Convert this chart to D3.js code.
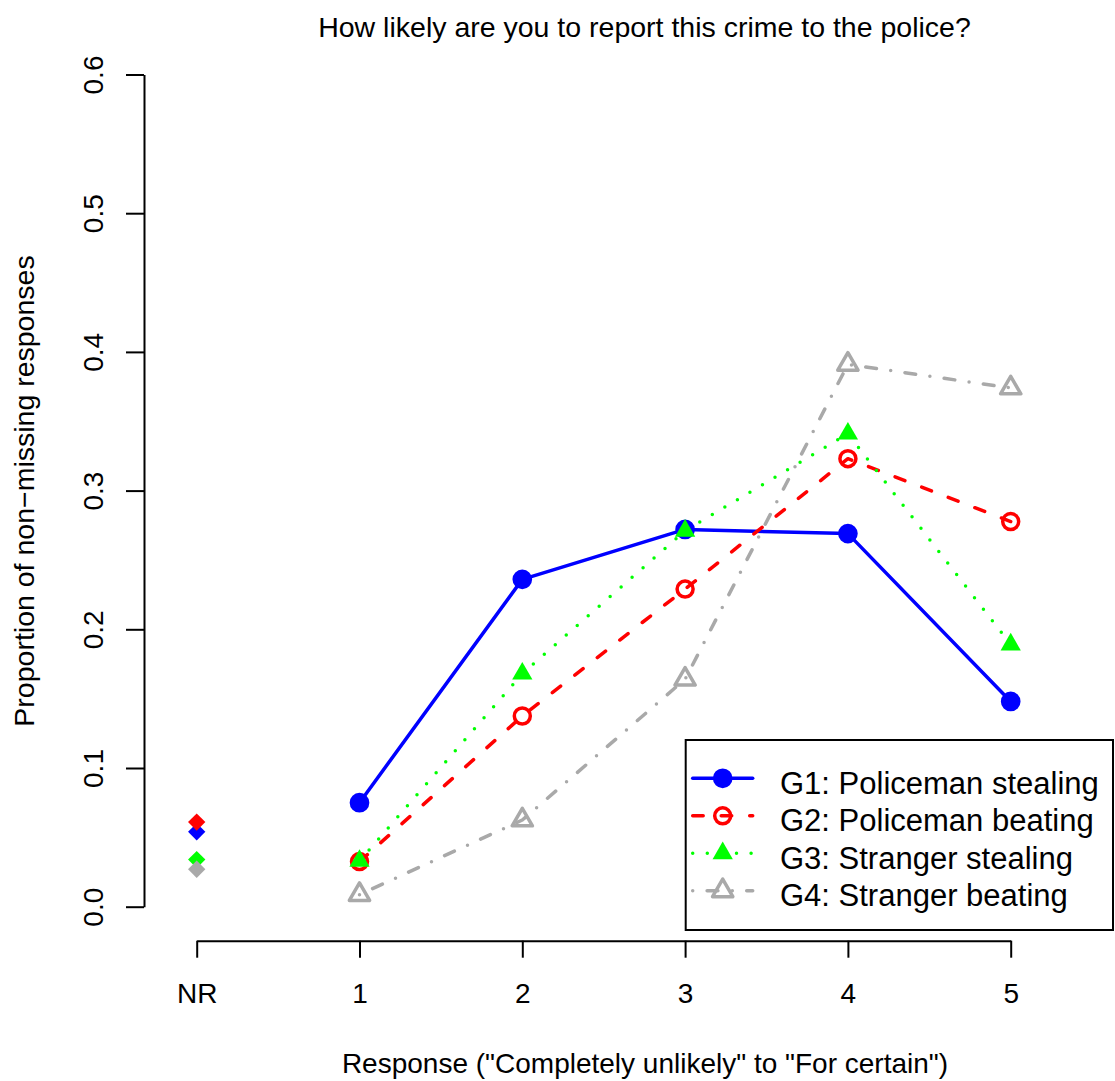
<!DOCTYPE html>
<html>
<head>
<meta charset="utf-8">
<script src="https://d3js.org/d3.v7.min.js"></script>
<style>
  body { margin: 0; background: #fff; }
  svg text { font-family: "Liberation Sans", Arial, sans-serif; fill: #000; }
</style>
</head>
<body>
<script>
// x positions: 0 = NR, 1..5 = responses
const categories = ["NR", "1", "2", "3", "4", "5"];
const responses = [1, 2, 3, 4, 5];
const yTicks = [0, 0.1, 0.2, 0.3, 0.4, 0.5, 0.6];

const groupNames = [
  "G1: Policeman stealing",
  "G2: Policeman beating",
  "G3: Stranger stealing",
  "G4: Stranger beating"
];
const nrValues = [0.054, 0.061, 0.034, 0.027];
const g1 = [0.075, 0.236, 0.272, 0.269, 0.148];
const g2 = [0.0325, 0.1375, 0.229, 0.323, 0.2777];
const g3 = [0.033, 0.168, 0.271, 0.341, 0.189];
const g4 = [0.0087, 0.0625, 0.164, 0.391, 0.374];

const colors = ["#0000FF", "#FF0000", "#00FF00", "#A9A9A9"];
const dashes = [null, "10.5,18", "0,14.6", "0,14.4,10.8,14.4"];
const lw = 3.5;

const series = [g1, g2, g3, g4].map((vals, i) => ({
  name: groupNames[i],
  nr: nrValues[i],
  values: vals.map((v, j) => ({ x: responses[j], y: v }))
}));

const W = 1115, H = 1081;
const svg = d3.select("body").append("svg")
  .attr("width", W)
  .attr("height", H);

const x = d3.scaleLinear().domain([0, 5]).range([196.7, 1010.7]);
const y = d3.scaleLinear().domain([0, 0.6]).range([906.7, 74.5]);

// y axis
const yAxis = svg.append("g")
  .attr("transform", "translate(144,0)")
  .call(d3.axisLeft(y).tickValues(yTicks).tickFormat(d3.format(".1f"))
    .tickSize(18).tickSizeOuter(0));
yAxis.selectAll("path, line").attr("stroke", "#000").attr("stroke-width", 2);
yAxis.selectAll("text")
  .attr("x", null).attr("dy", null)
  .attr("transform", "translate(-41,0) rotate(-90)")
  .attr("text-anchor", "middle")
  .style("font-size", "28px");

// x axis
const xAxis = svg.append("g")
  .attr("transform", "translate(0,940.7)")
  .call(d3.axisBottom(x).tickValues(d3.range(categories.length))
    .tickFormat(i => categories[i]).tickSize(17).tickSizeOuter(0));
xAxis.selectAll("path, line").attr("stroke", "#000").attr("stroke-width", 2);
xAxis.selectAll("text")
  .attr("y", 62.6).attr("dy", null)
  .style("font-size", "28px");
xAxis.attr("font-family", null).attr("font-size", null);
yAxis.attr("font-family", null).attr("font-size", null);

// titles
svg.append("text")
  .attr("x", 644.5).attr("y", 37)
  .attr("text-anchor", "middle")
  .style("font-size", "28.5px")
  .text("How likely are you to report this crime to the police?");

svg.append("text")
  .attr("x", 645).attr("y", 1073)
  .attr("text-anchor", "middle")
  .style("font-size", "28px")
  .text("Response (\"Completely unlikely\" to \"For certain\")");

svg.append("text")
  .attr("transform", "translate(34,491) rotate(-90)")
  .attr("text-anchor", "middle")
  .style("font-size", "28.5px")
  .text("Proportion of non\u2212missing responses");

// marker drawing
function marker(sel, i) {
  if (i === 0) {
    sel.append("circle").attr("r", 8.1)
      .attr("fill", colors[i]).attr("stroke", colors[i]).attr("stroke-width", lw);
  } else if (i === 1) {
    sel.append("circle").attr("r", 8)
      .attr("fill", "none").attr("stroke", colors[i]).attr("stroke-width", lw);
  } else if (i === 2) {
    sel.append("path").attr("d", d3.symbol().type(d3.symbolTriangle).size(178)())
      .attr("fill", colors[i]);
  } else {
    sel.append("path").attr("d", d3.symbol().type(d3.symbolTriangle).size(178)())
      .attr("fill", "none").attr("stroke", colors[i]).attr("stroke-width", lw)
      .attr("stroke-linejoin", "round");
  }
}

const line = d3.line().x(d => x(d.x)).y(d => y(d.y));

const plot = svg.append("g");

// NR diamonds
plot.selectAll(".nr")
  .data(series)
  .enter().append("path")
  .attr("class", "nr")
  .attr("d", d3.symbol().type(d3.symbolSquare).size(150)())
  .attr("transform", d => `translate(${x(0)},${y(d.nr)}) rotate(45)`)
  .attr("fill", (d, i) => colors[i]);

// lines and points, one group per series
series.forEach((s, i) => {
  const g = plot.append("g");
  g.append("path")
    .attr("d", line(s.values))
    .attr("fill", "none")
    .attr("stroke", colors[i])
    .attr("stroke-width", lw)
    .attr("stroke-linecap", "round")
    .attr("stroke-linejoin", "round")
    .attr("stroke-dasharray", dashes[i]);
  g.selectAll(".pt")
    .data(s.values)
    .enter().append("g")
    .attr("class", "pt")
    .attr("transform", d => `translate(${x(d.x)},${y(d.y)})`)
    .each(function() { marker(d3.select(this), i); });
});

// legend
const legend = svg.append("g");
legend.append("rect")
  .attr("x", 685.7).attr("y", 740)
  .attr("width", 427.3).attr("height", 190)
  .attr("fill", "#fff").attr("stroke", "#000").attr("stroke-width", 2);

const rows = legend.selectAll(".row")
  .data(series)
  .enter().append("g")
  .attr("class", "row")
  .attr("transform", (d, i) => `translate(0,${778.3 + i * 37.5})`);

rows.append("line")
  .attr("x1", 692.7).attr("x2", 752.7)
  .attr("stroke", (d, i) => colors[i])
  .attr("stroke-width", lw)
  .attr("stroke-linecap", "round")
  .attr("stroke-dasharray", (d, i) => dashes[i]);

rows.each(function(d, i) {
  const m = d3.select(this).append("g").attr("transform", "translate(722.7,0)");
  marker(m, i);
});

rows.append("text")
  .attr("x", 780).attr("y", 15.5)
  .style("font-size", "31px")
  .text(d => d.name);
</script>
</body>
</html>
